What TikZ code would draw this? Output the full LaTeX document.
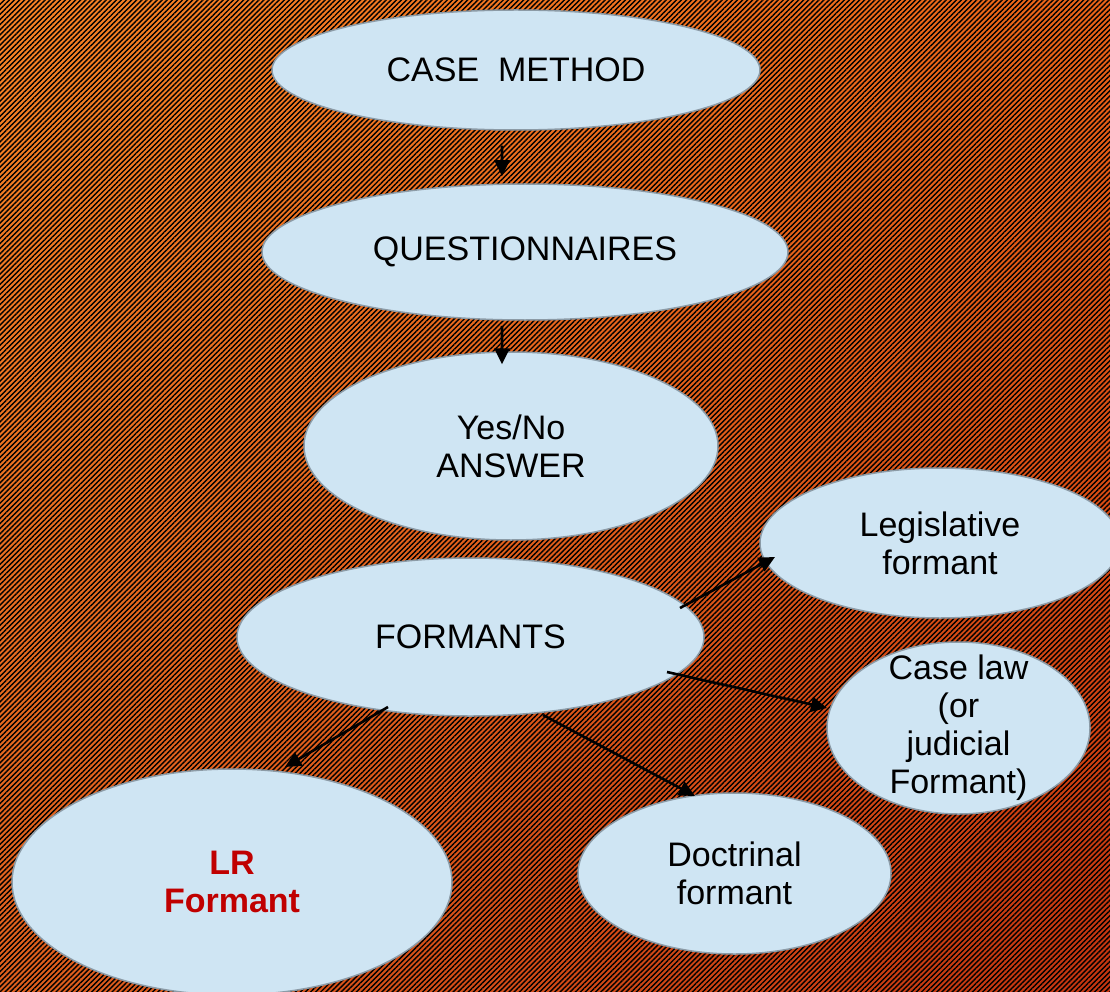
\documentclass[tikz,border=0pt]{standalone}
\usepackage{fontspec}
\setmainfont{Liberation Sans}
\usetikzlibrary{shapes.geometric,arrows.meta,patterns.meta,shadings}
\definecolor{bubfill}{HTML}{CFE5F3}
\definecolor{bubline}{HTML}{8C9BA6}
\definecolor{lrred}{HTML}{C00000}
\definecolor{bgtl}{HTML}{F88426}
\definecolor{bgtr}{HTML}{EC6418}
\definecolor{bgbl}{HTML}{E0601E}
\definecolor{bgbr}{HTML}{C43410}

\begin{document}
\begin{tikzpicture}[x=10pt,y=10pt,
    bub/.style={ellipse, fill=bubfill, draw=bubline, line width=1.5pt, align=center,
        font=\fontsize{34}{38}\selectfont},
    arr/.style={black, line width=2.6pt, -{Triangle[length=16pt,width=15pt]}}]
    \tikzstyle{every node}+=[inner sep=0pt]
    \useasboundingbox (0,0) rectangle (111,-99.2);
    \clip (0,0) rectangle (111,-99.2);
    \shade [upper left=bgtl, upper right=bgtr, lower left=bgbl, lower right=bgbr] (0,0) rectangle (111,-99.2);
    \fill [pattern={Lines[angle=45,distance=3.6pt,line width=1.4pt]}, pattern color=black] (0,0) rectangle (111,-99.2);
    \node [bub, minimum width=488pt, minimum height=120pt] (casemethod) at (51.6,-7) {CASE~~METHOD};
    \node [bub, minimum width=526pt, minimum height=136pt] (quest) at (52.5,-25.2) {QUESTIONNAIRES};
    \node [bub, minimum width=414pt, minimum height=188pt] (answer) at (51.1,-44.6) {Yes/No\\ANSWER};
    \node [bub, minimum width=467pt, minimum height=158pt] (formants) at (47.05,-63.7) {FORMANTS};
    \node [bub, minimum width=360pt, minimum height=150pt] (legis) at (94,-54.3) {Legislative\\formant};
    \node [bub, minimum width=263pt, minimum height=172pt, inner ysep=-16pt] (caselaw) at (95.85,-72.8) {Case law\\(or\\judicial\\Formant)};
    \node [bub, minimum width=313pt, minimum height=161pt] (doctrinal) at (73.45,-87.35) {Doctrinal\\formant};
    \node [bub, minimum width=440pt, minimum height=226pt, text=lrred, font=\fontsize{34}{38}\selectfont\bfseries] (lr) at (23.2,-88.2) {LR\\Formant};
    \draw [arr] ([shift={(-14pt,-15pt)}]casemethod.south) -- ([shift={(-23pt,7pt)}]quest.north);
    \draw [arr] ([shift={(-23pt,-5pt)}]quest.south) -- ([shift={(-9pt,-13pt)}]answer.north);
    \draw [arr] ([shift={(209.5pt,29pt)}]formants.center) -- ([shift={(-165pt,-14pt)}]legis.center);
    \draw [arr] ([shift={(196.5pt,-35pt)}]formants.center) -- ([shift={(-131.5pt,20pt)}]caselaw.center);
    \draw [arr] ([shift={(72.5pt,-78pt)}]formants.center) -- ([shift={(-39.5pt,77.5pt)}]doctrinal.center);
    \draw [arr] ([shift={(-82.5pt,-70pt)}]formants.center) -- ([shift={(53pt,115pt)}]lr.center);
\end{tikzpicture}
\end{document}
